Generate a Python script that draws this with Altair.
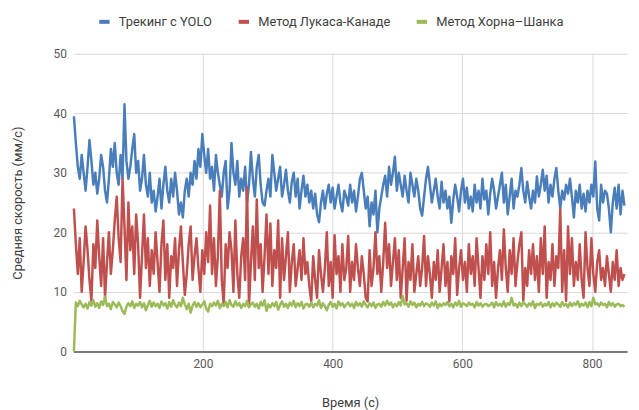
import altair as alt
import pandas as pd

seconds = list(range(1, 851, 3))

yolo = [
    39.5, 35, 31, 29, 33, 30, 27, 31, 35.5, 32,
    28, 30, 26.5, 29, 33, 31, 27, 25, 29, 34,
    31, 35, 30, 28, 33, 29, 41.5, 32, 29, 31,
    34, 36.5, 30, 32, 27, 29, 33, 28, 26, 30,
    25, 27, 23.5, 26, 29, 24, 28, 31, 27, 25,
    29, 26, 30, 27, 23, 25, 22.5, 27, 29, 26,
    30, 28, 32, 29, 34, 31, 36.5, 33, 30, 34,
    29, 31, 27, 33, 30, 28, 26, 30, 32, 24,
    27, 35, 30, 28, 32, 26, 29, 27, 31, 25,
    28, 33.5, 29, 26, 31, 33, 28, 25, 24.5, 27,
    29, 26, 33, 30, 27, 29, 31, 26, 28, 30.5,
    27, 25, 28.5, 30, 26, 29, 24, 27, 29.5, 26,
    28, 25, 27, 24, 26.5, 23, 21.7, 25, 27, 24,
    26.5, 28, 25, 27.5, 24, 26, 28, 25, 23.5, 27,
    26, 24.5, 28, 25, 27, 23.5, 26, 29, 30, 27,
    24, 26, 21, 25, 23, 27, 20, 24, 26, 28,
    29.5, 26, 31, 28, 30, 32.7, 27, 30, 28, 26,
    29.5, 27, 25, 30, 28, 26, 29, 27, 24, 22.8,
    26, 29, 31, 28, 25, 27, 29, 26, 24, 28.5,
    25, 27, 24, 26, 21.6, 25.5, 28, 26, 23.5, 27,
    29, 25, 27.5, 24, 26, 23.5, 28, 25, 27, 24,
    29, 25.5, 27, 23, 26.5, 29, 27, 24, 26, 28,
    30, 25, 28, 23, 26, 29, 24, 27, 26, 28,
    30.8, 27, 25, 28.5, 26, 24, 27, 25, 29.4, 26,
    28, 30.5, 27, 29.5, 25, 28, 26, 29, 30.8, 27,
    24, 27, 25.5, 28, 26.5, 29, 26, 22.5, 27, 25,
    28, 24, 26.5, 23.5, 27, 25, 28, 26, 31.9, 24,
    22, 28, 25, 27, 26.5, 24, 20, 25, 27.5, 24,
    28, 23, 27, 24.5,
]

lucas_kanade = [
    24, 18, 13, 19, 10, 15, 21, 17, 12, 8.5,
    18, 14, 22, 16, 11, 19, 9, 15, 20, 13,
    17, 22, 26, 19, 15, 29, 21, 12, 25, 17,
    21, 13, 23, 18, 9, 16, 23, 14, 19, 11,
    17, 13, 20, 15, 10, 18, 22, 12, 18, 9,
    16, 14, 19, 11, 17, 21, 15, 9.5, 13, 18,
    21, 12, 16, 19, 14, 10, 17, 13, 20, 15,
    24.5, 13, 19, 11, 16, 27, 12, 8, 18, 14,
    20, 17, 10, 22, 13, 9, 16, 19, 12, 27.5,
    7.5, 15, 21, 12, 25.5, 14, 18, 10, 16, 23,
    13, 21.5, 11, 17, 14, 22, 9, 19, 12, 16,
    20, 10, 15, 18, 11, 14, 17, 12, 19, 13,
    15, 11, 8.4, 16, 12, 9, 17, 13, 10, 14,
    20, 11, 15, 9, 19.5, 13, 16, 10, 18, 12,
    14, 19.4, 10, 15, 12, 18, 14, 11, 16, 13,
    9, 8.4, 17, 11, 14, 20, 13, 16, 10, 15,
    21.6, 14, 18, 11, 15, 19, 12, 17, 9, 14,
    19, 8.5, 15, 12, 18, 10, 13, 16, 11, 14,
    19.4, 11, 16, 13, 9, 15, 12, 17, 10, 14,
    18, 11, 15, 8.4, 16, 13, 19, 9.5, 14, 17,
    12, 15, 10, 18, 13, 16, 11, 19, 14, 9,
    16, 12, 18, 13, 20, 11, 15, 9, 14, 17,
    12, 20.5, 14, 10, 17, 13, 19, 11, 15, 18,
    20, 8.5, 14, 11, 17, 13, 18, 12, 16, 10,
    19, 13, 21, 9, 15, 12, 18, 11, 16, 14,
    23.9, 10, 17, 8.5, 21, 13, 19, 11, 15, 12,
    18, 12, 9, 20, 14, 11, 19, 13, 10, 15,
    17, 12, 14, 11, 16, 13, 10, 15, 12, 17,
    11, 14, 12, 13,
]

horn_schunck = [
    0, 8.2, 7.6, 8.5, 7.9, 7.4, 8.0, 7.2, 8.3, 7.7,
    8.6, 7.5, 8.1, 7.3, 8.4, 7.8, 9.2, 7.6, 8.0, 7.1,
    8.3, 7.9, 7.4, 8.2, 7.6, 6.8, 6.3, 7.5, 8.1, 7.6,
    8.4, 7.3, 8.0, 7.7, 8.3, 7.4, 8.1, 6.9, 7.8, 8.5,
    7.5, 8.2, 7.6, 8.0, 7.3, 8.4, 7.7, 8.1, 7.2, 8.3,
    7.5, 8.6, 7.8, 7.4, 8.2, 7.6, 9.0, 7.9, 7.1, 8.0,
    6.5, 7.7, 8.3, 7.5, 8.1, 7.4, 7.9, 8.4, 7.2, 6.7,
    8.0, 7.6, 8.2, 7.7, 8.5, 7.3, 8.0, 7.6, 8.3, 7.4,
    8.6, 7.8, 7.5, 8.4, 7.7, 8.1, 7.3, 8.0, 7.6, 8.5,
    7.4, 7.9, 8.2, 7.5, 8.0, 7.2, 8.3, 7.7, 8.6, 6.8,
    7.9, 7.4, 8.1, 7.6, 8.3, 7.0, 7.8, 8.4, 7.5, 8.0,
    7.3, 8.2, 7.7, 8.5, 7.4, 8.1, 7.6, 8.3, 7.2, 7.9,
    8.0, 7.5, 8.2, 7.4, 8.0, 7.7, 8.6, 7.3, 8.1, 7.6,
    6.9, 7.8, 8.3, 7.5, 8.0, 7.2, 8.4, 7.7, 8.1, 7.4,
    7.9, 8.2, 7.6, 8.0, 7.3, 8.3, 7.7, 8.1, 7.5, 8.4,
    7.8, 7.4, 8.1, 7.6, 8.2, 7.3, 7.9, 8.0, 7.5, 8.3,
    7.7, 8.5, 7.8, 8.2, 7.4, 8.0, 7.6, 8.3, 7.7, 9.3,
    7.9, 8.1, 7.5, 8.4, 7.8, 8.2, 7.4, 8.0, 7.7, 8.3,
    7.6, 8.1, 7.9, 7.5, 8.2, 7.7, 8.4, 7.3, 8.0, 7.6,
    8.1, 7.8, 8.3, 7.6, 8.0, 7.4, 8.2, 7.7, 8.5, 7.5,
    8.1, 7.9, 7.6, 8.2, 7.8, 8.0, 7.4, 8.3, 7.7, 8.1,
    7.5, 7.9, 8.0, 7.6, 7.8, 8.2, 7.4, 8.3, 7.7, 8.0,
    7.6, 8.4, 7.5, 8.1, 7.8, 9.0, 7.7, 8.0, 7.4, 8.2,
    7.6, 8.3, 7.9, 7.5, 8.1, 7.7, 8.4, 7.3, 8.0, 7.8,
    8.2, 7.5, 8.0, 7.7, 8.3, 7.4, 8.1, 7.6, 8.2, 7.9,
    7.5, 8.3, 7.7, 8.0, 7.4, 8.2, 7.6, 8.1, 7.8, 8.4,
    7.5, 8.0, 7.7, 8.2, 7.4, 8.3, 7.6, 9.0, 7.9, 8.1,
    7.6, 8.2, 7.8, 8.0, 7.4, 8.3, 7.7, 8.1, 7.5, 7.9,
    8.0, 7.6, 7.8, 7.5,
]

series_names = ["Трекинг с YOLO", "Метод Лукаса-Канаде", "Метод Хорна–Шанка"]
series_colors = ["#4A7EBB", "#C0504D", "#9BBB59"]
x_ticks = [200, 400, 600, 800]
y_ticks = [0, 10, 20, 30, 40, 50]

rows = []
for name, vals in zip(series_names, [yolo, lucas_kanade, horn_schunck]):
    for t, v in zip(seconds, vals):
        rows.append({"t": t, "v": v, "s": name})
df = pd.DataFrame(rows)

FONT = "Roboto"

chart = (
    alt.Chart(df)
    .mark_line(strokeWidth=2.5, strokeJoin="round")
    .encode(
        x=alt.X(
            "t:Q",
            scale=alt.Scale(domain=[0, 854], nice=False, zero=False),
            axis=alt.Axis(
                values=x_ticks,
                title="Время (с)",
                ticks=False,
                labelPadding=7,
                titlePadding=28,
                domainColor="#555555",
                domainWidth=1.5,
            ),
        ),
        y=alt.Y(
            "v:Q",
            scale=alt.Scale(domain=[0, 50], nice=False),
            axis=alt.Axis(
                values=y_ticks,
                title="Средняя скорость (мм/с)",
                ticks=False,
                domain=False,
                labelPadding=7,
                titlePadding=29,
            ),
        ),
        color=alt.Color(
            "s:N",
            sort=series_names,
            scale=alt.Scale(domain=series_names, range=series_colors),
            legend=alt.Legend(
                title=None,
                orient="none",
                direction="horizontal",
                legendX=24,
                legendY=-40,
                symbolType="stroke",
                symbolSize=110,
                symbolStrokeWidth=4,
                labelOffset=7,
                columnPadding=18,
                padding=0,
            ),
        ),
        order=alt.Order("t:Q"),
    )
    .properties(
        width=560,
        height=301,
        autosize=alt.AutoSizeParams(type="none"),
        padding={"left": 66, "top": 44, "right": 4, "bottom": 57},
    )
    .configure_view(stroke=None)
    .configure_axis(
        labelFont=FONT,
        titleFont=FONT,
        labelFontSize=12,
        titleFontSize=13,
        labelColor="#595959",
        titleColor="#404040",
        titleFontWeight="normal",
        gridColor="#D9D9D9",
        gridWidth=1,
    )
    .configure_legend(
        labelFont=FONT,
        labelFontSize=13,
        labelColor="#404040",
    )
)

chart.save("out.html", embed_options={"renderer": "svg", "actions": False})
